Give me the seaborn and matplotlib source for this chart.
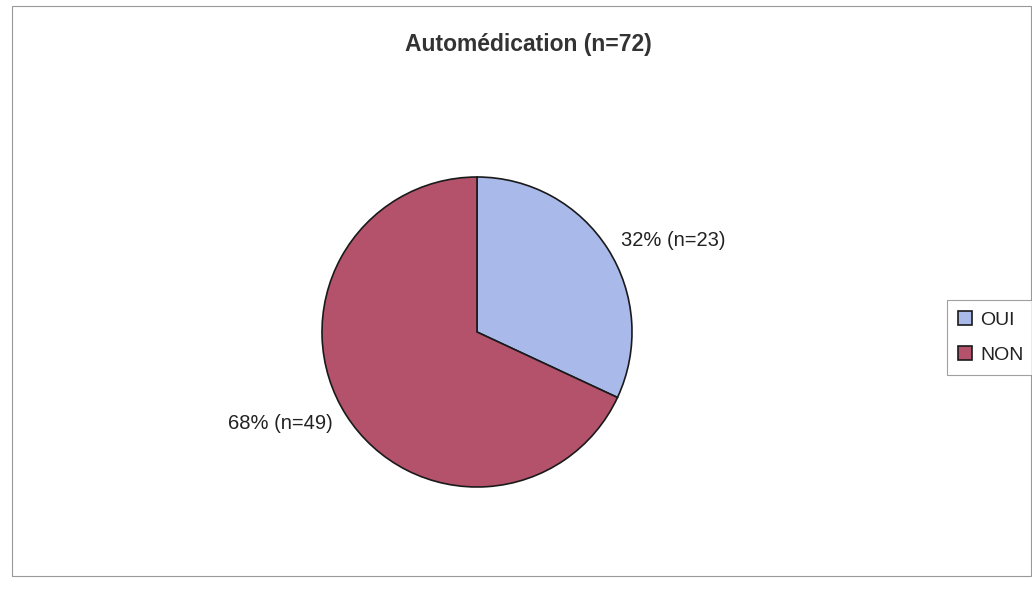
import seaborn as sns
import matplotlib.pyplot as plt
from matplotlib.patches import Rectangle

# data
categories = ['OUI', 'NON']
counts = [23, 49]
colors = ['#A9B9E9', '#B4526B']

sns.set_theme(style="white")
plt.rcParams['font.family'] = ['Liberation Sans', 'DejaVu Sans']

total = sum(counts)
labels = [f"{round(c / total * 100)}% (n={c})" for c in counts]

fig = plt.figure(figsize=(10.32, 5.89), dpi=100)
fig.patch.set_facecolor('white')

# pie axes: center at (477, 332) px, radius ~155 px
W, H = 1032, 589
ax = fig.add_axes([(477 - 155) / W, (H - 332 - 155) / H, 310 / W, 310 / H])
wedges, texts = ax.pie(counts, labels=labels, colors=colors, startangle=90,
                       counterclock=False, labeldistance=1.1,
                       wedgeprops=dict(edgecolor='#1a1a1a', linewidth=1.2),
                       textprops=dict(fontsize=14.5, color='#222222'))
ax.set_xlim(-1, 1)
ax.set_ylim(-1, 1)
ax.set_aspect('equal')
ax.axis('off')

fig.text(528 / W, 1 - 44 / H, 'Automédication (n=72)', ha='center', va='center',
         fontsize=16.5, fontweight='bold', color='#333333')

leg = fig.legend(wedges, categories, loc='upper left',
                 bbox_to_anchor=(947 / W, 1 - 300 / H), fontsize=14,
                 handlelength=0.75, handleheight=0.75, handletextpad=0.4,
                 labelspacing=0.9, borderpad=0.55, fancybox=False,
                 frameon=True, edgecolor='#888888', borderaxespad=0)
leg.get_frame().set_linewidth(0.8)
for t in leg.get_texts():
    t.set_color('#222222')

# outer chart border
fig.patches.append(Rectangle((12 / W, 13 / H), (W - 13) / W, (H - 19) / H,
                             transform=fig.transFigure, fill=False,
                             edgecolor='#999999', linewidth=0.8))

fig.savefig('out.png', dpi=100)
